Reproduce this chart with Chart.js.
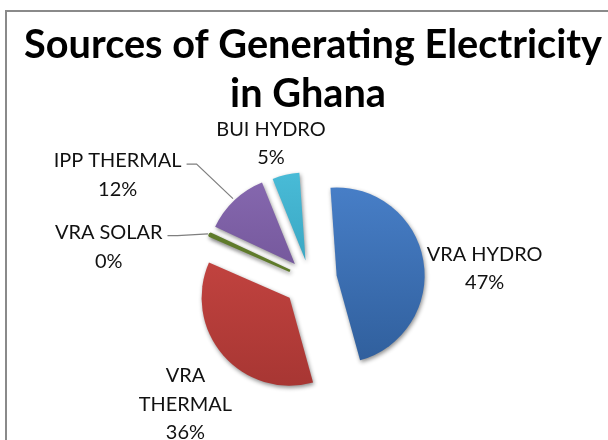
<!DOCTYPE html>
<html><head><meta charset="utf-8">
<script src="https://cdn.jsdelivr.net/npm/chart.js@4.4.0/dist/chart.umd.min.js"></script>
<style>html,body{margin:0;padding:0;background:#fff;}#wrap{width:608px;height:440px;position:relative;}</style>
</head><body><div id="wrap"><canvas id="c" width="608" height="440"></canvas></div>
<script>
const titleLines = ['Sources of Generating Electricity', 'in Ghana'];
const categories = ['VRA HYDRO', 'VRA THERMAL', 'VRA SOLAR', 'IPP THERMAL', 'BUI HYDRO'];
const shares = [47, 36, 0.4, 12, 5];
const sliceLight = ['#4a82cc', '#d04a46', '#8aaa48', '#8a6cb4', '#4cc0dc'];
const sliceDark = ['#2d5b97', '#a33431', '#5f7b2b', '#624686', '#2a8fab'];
const sliceShift = [27, 27, 22, 22, 20];
const labelDist = [175, 176, 204, 219, 142];
const labelShiftDeg = [6, -4, -15, -18, -3];
const labelWrap = [false, true, false, false, false];
const leaderLine = [false, false, true, true, false];

const FONT = 'Lato, "Open Sans", "DejaVu Sans", sans-serif';
const mctx = document.createElement('canvas').getContext('2d');
mctx.font = 'bold 40px ' + FONT;
const titleSize = 40 * 578 / mctx.measureText(titleLines[0]).width;
mctx.font = '20px ' + FONT;
const labelSize = 20 * 128 / mctx.measureText('IPP THERMAL').width;
const total = shares.reduce((a, b) => a + b, 0);

const framePlugin = {
  id: 'frame',
  beforeDraw(chart) {
    const c = chart.ctx;
    c.save();
    c.fillStyle = '#fff';
    c.fillRect(0, 0, chart.width, chart.height);
    c.strokeStyle = '#8a8a8a';
    c.lineWidth = 2;
    c.beginPath();
    c.moveTo(6, chart.height);
    c.lineTo(6, 11);
    c.lineTo(chart.width, 11);
    c.stroke();
    c.fillStyle = '#000';
    c.font = 'bold ' + titleSize.toFixed(2) + 'px ' + FONT;
    c.textAlign = 'center';
    c.textBaseline = 'alphabetic';
    c.fillText(titleLines[0], 313, 58);
    c.fillText(titleLines[1], 308, 107);
    c.restore();
  },
  beforeDatasetsDraw(chart) {
    const c = chart.ctx;
    c.save();
    c.shadowColor = 'rgba(0,0,0,0.45)';
    c.shadowBlur = 4;
    c.shadowOffsetX = 1;
    c.shadowOffsetY = 2;
  },
  beforeDatasetDraw(chart, args) {
    const c = chart.ctx;
    args.meta.data.forEach((arc, i) => {
      const mid = (arc.startAngle + arc.endAngle) / 2;
      c.save();
      c.translate(Math.cos(mid) * sliceShift[i], Math.sin(mid) * sliceShift[i]);
      arc.draw(c);
      c.restore();
    });
    return false;
  },
  afterDatasetsDraw(chart) {
    const c = chart.ctx;
    c.restore();
    const meta = chart.getDatasetMeta(0);
    c.save();
    c.font = labelSize.toFixed(2) + 'px ' + FONT;
    c.fillStyle = '#111';
    c.textAlign = 'center';
    c.textBaseline = 'middle';
    const lh = 28.5;
    meta.data.forEach((arc, i) => {
      const p = arc.getProps(['x', 'y', 'startAngle', 'endAngle', 'outerRadius'], true);
      const mid = (p.startAngle + p.endAngle) / 2;
      const a = mid + labelShiftDeg[i] * Math.PI / 180;
      const lx = p.x + Math.cos(a) * labelDist[i];
      const ly = p.y + Math.sin(a) * labelDist[i];
      const pct = Math.round(shares[i] / total * 100) + '%';
      const lines = labelWrap[i] ? categories[i].split(' ').concat([pct]) : [categories[i], pct];
      const y0 = ly - (lines.length - 1) * lh / 2;
      lines.forEach((t, k) => c.fillText(t, lx, y0 + k * lh));
      if (leaderLine[i]) {
        const w = c.measureText(lines[0]).width;
        const sx = lx + w / 2 + 5;
        const sy = y0 + 3;
        const r = p.outerRadius + sliceShift[i] + 2;
        const ex = p.x + Math.cos(mid) * r;
        const ey = p.y + Math.sin(mid) * r;
        c.strokeStyle = '#7f7f7f';
        c.lineWidth = 1.2;
        c.beginPath();
        c.moveTo(sx, sy);
        c.lineTo(sx + 10, sy);
        c.lineTo(ex, ey);
        c.stroke();
      }
    });
    c.restore();
  }
};

new Chart(document.getElementById('c'), {
  type: 'pie',
  data: {
    labels: categories,
    datasets: [{
      data: shares,
      backgroundColor: (ctx) => {
        const i = ctx.dataIndex;
        const area = ctx.chart.chartArea;
        if (!area) return sliceLight[i];
        const cy = (area.top + area.bottom) / 2;
        const g = ctx.chart.ctx.createLinearGradient(0, cy - 110, 0, cy + 110);
        g.addColorStop(0, sliceLight[i]);
        g.addColorStop(1, sliceDark[i]);
        return g;
      },
      borderWidth: [0, 0, 2.5, 0, 0],
      borderColor: sliceDark,
      offset: 0,
      hoverOffset: 0
    }]
  },
  options: {
    responsive: false,
    animation: false,
    rotation: -4,
    radius: 88,
    layout: { padding: { left: 100, right: 88, top: 180, bottom: 60 } },
    plugins: { legend: { display: false }, tooltip: { enabled: false }, title: { display: false } },
    events: []
  },
  plugins: [framePlugin]
});
</script>
</body></html>
